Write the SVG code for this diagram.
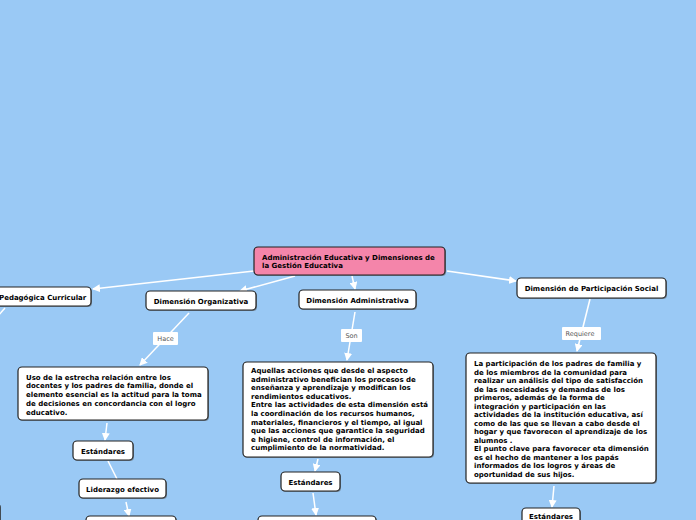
<svg xmlns="http://www.w3.org/2000/svg" width="696" height="520" viewBox="0 0 696 520">
<style>
.n{fill:#fff;stroke:#222;stroke-width:1.2}
.c{fill:#f485aa;stroke:#222;stroke-width:1.2}
.sh{fill:#555;opacity:0.55}
.t{font-family:"DejaVu Sans",Verdana,sans-serif;font-weight:bold;font-size:7px;fill:#000}
.tm{text-anchor:middle}
.l{stroke:#fff;stroke-width:1.5;fill:none}
.lb{fill:#fff}
.lt{font-family:"DejaVu Sans",Verdana,sans-serif;font-size:6.5px;fill:#555;text-anchor:middle}
</style>
<defs>
<marker id="a" markerWidth="8" markerHeight="8" refX="7" refY="4" orient="auto" markerUnits="userSpaceOnUse">
<path d="M0,0 L8,4 L0,8 z" fill="#fff"/>
</marker>
</defs>
<rect width="696" height="520" fill="#9ac9f5"/>
<g id="connectors">
<line class="l" x1="254" y1="271" x2="93" y2="289" marker-end="url(#a)"/>
<line class="l" x1="295" y1="276" x2="240" y2="291" marker-end="url(#a)"/>
<line class="l" x1="352" y1="276" x2="355" y2="289" marker-end="url(#a)"/>
<line class="l" x1="447" y1="271" x2="516" y2="281" marker-end="url(#a)"/>
<line class="l" x1="5" y1="308" x2="-2" y2="316"/>
<line class="l" x1="189" y1="313" x2="140" y2="365" marker-end="url(#a)"/>
<line class="l" x1="355" y1="312" x2="347" y2="360" marker-end="url(#a)"/>
<line class="l" x1="590" y1="299" x2="577" y2="351" marker-end="url(#a)"/>
<line class="l" x1="107" y1="423" x2="105" y2="440" marker-end="url(#a)"/>
<line class="l" x1="108" y1="461" x2="117" y2="479"/>
<line class="l" x1="126" y1="502" x2="129" y2="516" marker-end="url(#a)"/>
<line class="l" x1="318" y1="459" x2="315" y2="471" marker-end="url(#a)"/>
<line class="l" x1="313" y1="493" x2="316" y2="515" marker-end="url(#a)"/>
<line class="l" x1="554" y1="486" x2="552" y2="507" marker-end="url(#a)"/>
<rect class="lb" x="153" y="332" width="25" height="13" rx="1"/>
<text class="lt" x="165.5" y="341">Hace</text>
<rect class="lb" x="341" y="329" width="21" height="13" rx="1"/>
<text class="lt" x="351.5" y="338">Son</text>
<rect class="lb" x="562" y="327" width="39" height="13" rx="1"/>
<text class="lt" x="580" y="336">Requiere</text>
</g>
<g id="central">
<rect class="sh" x="255" y="248" width="191" height="28" rx="4"/>
<rect class="c" x="254" y="247" width="191" height="28" rx="4"/>
<text class="t" x="262" y="260">Administración Educativa y Dimensiones de</text>
<text class="t" x="262" y="268">la Gestión Educativa</text>
</g>
<g id="pedagogica">
<rect class="sh" x="-9" y="288" width="101" height="19" rx="4"/>
<rect class="n" x="-10" y="287" width="101" height="19" rx="4"/>
<text class="t" x="-1" y="299.5">Pedagógica Curricular</text>
</g>
<g id="organizativa">
<rect class="sh" x="147" y="292" width="110" height="19" rx="4"/>
<rect class="n" x="146" y="291" width="110" height="19" rx="4"/>
<text class="t tm" x="201" y="303.5">Dimensión Organizativa</text>
</g>
<g id="administrativa">
<rect class="sh" x="300" y="291" width="117" height="19" rx="4"/>
<rect class="n" x="299" y="290" width="117" height="19" rx="4"/>
<text class="t tm" x="357.5" y="302.5">Dimensión Administrativa</text>
</g>
<g id="participacion">
<rect class="sh" x="518" y="279" width="149" height="20" rx="4"/>
<rect class="n" x="517" y="278" width="149" height="20" rx="4"/>
<text class="t tm" x="591.5" y="291">Dimensión de Participación Social</text>
</g>
<g id="uso">
<rect class="sh" x="19" y="368" width="190" height="53" rx="4"/>
<rect class="n" x="18" y="367" width="190" height="53" rx="4"/>
<text class="t" x="26" y="379.5">Uso de la estrecha relación entre los</text>
<text class="t" x="26" y="388.3">docentes y los padres de familia, donde el</text>
<text class="t" x="26" y="397.1">elemento esencial es la actitud para la toma</text>
<text class="t" x="26" y="405.9">de decisiones en concordancia con el logro</text>
<text class="t" x="26" y="414.7">educativo.</text>
</g>
<g id="estandares1">
<rect class="sh" x="74" y="442" width="60" height="19" rx="4"/>
<rect class="n" x="73" y="441" width="60" height="19" rx="4"/>
<text class="t tm" x="103" y="453.5">Estándares</text>
</g>
<g id="liderazgo">
<rect class="sh" x="80" y="480" width="87" height="19" rx="4"/>
<rect class="n" x="79" y="479" width="87" height="19" rx="4"/>
<text class="t tm" x="122.5" y="491.5">Liderazgo efectivo</text>
</g>
<g id="bottom1">
<rect class="sh" x="87" y="517" width="90" height="20" rx="4"/>
<rect class="n" x="86" y="516" width="90" height="20" rx="4"/>
</g>
<g id="leftcut">
<rect class="sh" x="-59" y="504" width="60" height="30" rx="4"/>
<rect class="n" x="-60" y="503" width="60" height="30" rx="4"/>
</g>
<g id="aquellas">
<rect class="sh" x="244" y="363" width="190" height="95" rx="4"/>
<rect class="n" x="243" y="362" width="190" height="95" rx="4"/>
<text class="t" x="251" y="373">Aquellas acciones que desde el aspecto</text>
<text class="t" x="251" y="381.6">administrativo benefician los procesos de</text>
<text class="t" x="251" y="390.2">enseñanza y aprendizaje y modifican los</text>
<text class="t" x="251" y="398.8">rendimientos educativos.</text>
<text class="t" x="251" y="407.4">Entre las actividades de esta dimensión está</text>
<text class="t" x="251" y="416">la coordinación de los recursos humanos,</text>
<text class="t" x="251" y="424.6">materiales, financieros y el tiempo, al igual</text>
<text class="t" x="251" y="433.2">que las acciones que garantice la seguridad</text>
<text class="t" x="251" y="441.8">e higiene, control de información, el</text>
<text class="t" x="251" y="450.4">cumplimiento de la normatividad.</text>
</g>
<g id="estandares2">
<rect class="sh" x="282" y="473" width="59" height="19" rx="4"/>
<rect class="n" x="281" y="472" width="59" height="19" rx="4"/>
<text class="t tm" x="310.5" y="484.5">Estándares</text>
</g>
<g id="bottom2">
<rect class="sh" x="259" y="517" width="118" height="20" rx="4"/>
<rect class="n" x="258" y="516" width="118" height="20" rx="4"/>
</g>
<g id="participacion-texto">
<rect class="sh" x="467" y="354" width="190" height="130" rx="4"/>
<rect class="n" x="466" y="353" width="190" height="130" rx="4"/>
<text class="t" x="474" y="366">La participación de los padres de familia y</text>
<text class="t" x="474" y="374.5">de los miembros de la comunidad para</text>
<text class="t" x="474" y="383">realizar un análisis del tipo de satisfacción</text>
<text class="t" x="474" y="391.5">de las necesidades y demandas de los</text>
<text class="t" x="474" y="400">primeros, además de la forma de</text>
<text class="t" x="474" y="408.5">integración y participación en las</text>
<text class="t" x="474" y="417">actividades de la institución educativa, así</text>
<text class="t" x="474" y="425.5">como de las que se llevan a cabo desde el</text>
<text class="t" x="474" y="434">hogar y que favorecen el aprendizaje de los</text>
<text class="t" x="474" y="442.5">alumnos .</text>
<text class="t" x="474" y="451">El punto clave para favorecer eta dimensión</text>
<text class="t" x="474" y="459.5">es el hecho de mantener a los papás</text>
<text class="t" x="474" y="468">informados de los logros y áreas de</text>
<text class="t" x="474" y="476.5">oportunidad de sus hijos.</text>
</g>
<g id="estandares3">
<rect class="sh" x="523" y="509" width="58" height="19" rx="4"/>
<rect class="n" x="522" y="508" width="58" height="19" rx="4"/>
<text class="t tm" x="551" y="519">Estándares</text>
</g>
</svg>
